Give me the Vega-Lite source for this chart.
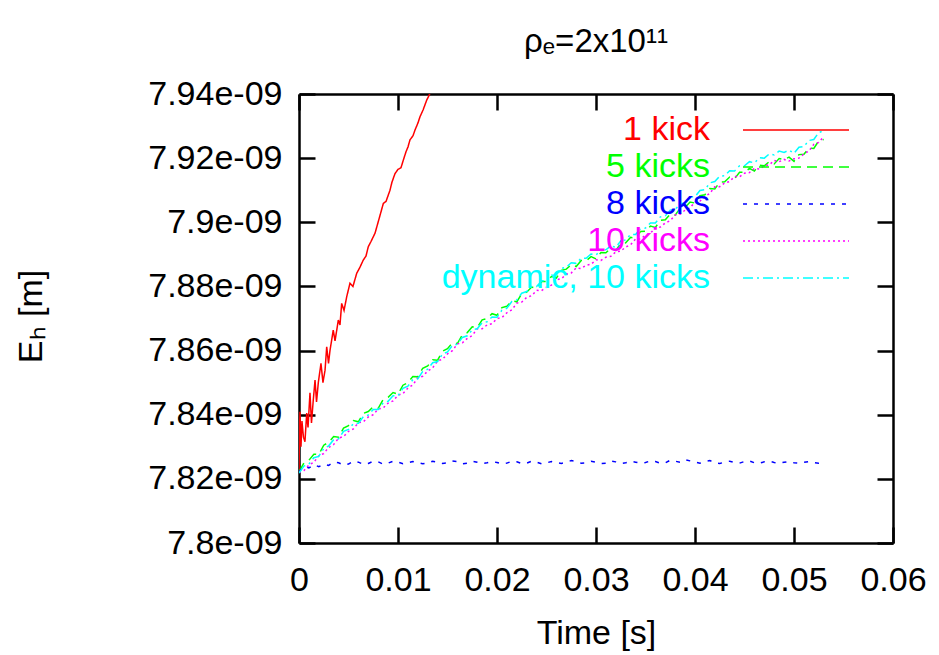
{
  "$schema": "https://vega.github.io/schema/vega-lite/v6.json",
  "width": 594,
  "height": 449,
  "autosize": {"type": "none"},
  "padding": {"left": 299, "top": 94, "right": 46, "bottom": 112},
  "background": "white",
  "title": {"text": "ρₑ=2x10¹¹", "font": "Liberation Sans", "fontSize": 33, "fontWeight": "normal", "color": "black", "anchor": "middle", "offset": 18},
  "config": {
    "view": {"stroke": null},
    "font": "Liberation Sans",
    "axis": {"grid": false, "domainColor": "black", "domainWidth": 2.5, "tickColor": "black", "tickWidth": 2.5, "tickSize": -16, "labelFont": "Liberation Sans", "labelFontSize": 34, "labelColor": "black", "titleFont": "Liberation Sans", "titleFontSize": 34, "titleFontWeight": "normal", "titleColor": "black", "labelFlush": false, "labelOverlap": false, "labelBound": false}
  },
  "data": {"values": [
    {"t":0,"E":7.8222e-9,"s":"1 kick"},{"t":0.00005,"E":7.835e-9,"s":"1 kick"},{"t":0.0001,"E":7.8409e-9,"s":"1 kick"},{"t":0.0002,"E":7.830e-9,"s":"1 kick"},{"t":0.0003,"E":7.838e-9,"s":"1 kick"},{"t":0.00045,"E":7.833e-9,"s":"1 kick"},{"t":0.0006,"E":7.8316e-9,"s":"1 kick"},{"t":0.00078,"E":7.8405e-9,"s":"1 kick"},{"t":0.00091,"E":7.836e-9,"s":"1 kick"},{"t":0.00111,"E":7.8468e-9,"s":"1 kick"},{"t":0.00126,"E":7.8374e-9,"s":"1 kick"},{"t":0.00144,"E":7.8445e-9,"s":"1 kick"},{"t":0.00162,"E":7.8508e-9,"s":"1 kick"},{"t":0.00177,"E":7.844e-9,"s":"1 kick"},{"t":0.00195,"E":7.850e-9,"s":"1 kick"},{"t":0.00222,"E":7.856e-9,"s":"1 kick"},{"t":0.00242,"E":7.850e-9,"s":"1 kick"},{"t":0.00263,"E":7.8539e-9,"s":"1 kick"},{"t":0.0028,"E":7.8612e-9,"s":"1 kick"},{"t":0.00298,"E":7.856e-9,"s":"1 kick"},{"t":0.00313,"E":7.860e-9,"s":"1 kick"},{"t":0.00346,"E":7.8664e-9,"s":"1 kick"},{"t":0.00364,"E":7.863e-9,"s":"1 kick"},{"t":0.00397,"E":7.8695e-9,"s":"1 kick"},{"t":0.00414,"E":7.868e-9,"s":"1 kick"},{"t":0.00431,"E":7.8747e-9,"s":"1 kick"},{"t":0.00455,"E":7.8725e-9,"s":"1 kick"},{"t":0.00482,"E":7.8768e-9,"s":"1 kick"},{"t":0.00515,"E":7.881e-9,"s":"1 kick"},{"t":0.00545,"E":7.880e-9,"s":"1 kick"},{"t":0.00583,"E":7.8841e-9,"s":"1 kick"},{"t":0.00616,"E":7.886e-9,"s":"1 kick"},{"t":0.00649,"E":7.8882e-9,"s":"1 kick"},{"t":0.00677,"E":7.8895e-9,"s":"1 kick"},{"t":0.007,"E":7.8924e-9,"s":"1 kick"},{"t":0.00727,"E":7.894e-9,"s":"1 kick"},{"t":0.00768,"E":7.8966e-9,"s":"1 kick"},{"t":0.00808,"E":7.901e-9,"s":"1 kick"},{"t":0.00852,"E":7.9059e-9,"s":"1 kick"},{"t":0.00879,"E":7.9065e-9,"s":"1 kick"},{"t":0.00919,"E":7.910e-9,"s":"1 kick"},{"t":0.00939,"E":7.9125e-9,"s":"1 kick"},{"t":0.0097,"E":7.9152e-9,"s":"1 kick"},{"t":0.01,"E":7.9165e-9,"s":"1 kick"},{"t":0.0103,"E":7.917e-9,"s":"1 kick"},{"t":0.01054,"E":7.9194e-9,"s":"1 kick"},{"t":0.01081,"E":7.922e-9,"s":"1 kick"},{"t":0.01101,"E":7.9235e-9,"s":"1 kick"},{"t":0.01121,"E":7.9257e-9,"s":"1 kick"},{"t":0.01152,"E":7.927e-9,"s":"1 kick"},{"t":0.01172,"E":7.9288e-9,"s":"1 kick"},{"t":0.01202,"E":7.931e-9,"s":"1 kick"},{"t":0.01222,"E":7.9329e-9,"s":"1 kick"},{"t":0.01253,"E":7.935e-9,"s":"1 kick"},{"t":0.0129,"E":7.9381e-9,"s":"1 kick"},{"t":0.01313,"E":7.9395e-9,"s":"1 kick"},{"t":0.01333,"E":7.941e-9,"s":"1 kick"},

    {"t":0,"E":7.8222e-9,"s":"5 kicks"},{"t":0.001,"E":7.8258e-9,"s":"5 kicks"},{"t":0.002,"E":7.8276e-9,"s":"5 kicks"},{"t":0.003,"E":7.8314e-9,"s":"5 kicks"},{"t":0.004,"E":7.833e-9,"s":"5 kicks"},{"t":0.005,"E":7.8366e-9,"s":"5 kicks"},{"t":0.006,"E":7.8378e-9,"s":"5 kicks"},{"t":0.007,"E":7.841e-9,"s":"5 kicks"},{"t":0.008,"E":7.842e-9,"s":"5 kicks"},{"t":0.009,"E":7.8454e-9,"s":"5 kicks"},{"t":0.010,"E":7.8464e-9,"s":"5 kicks"},{"t":0.011,"E":7.85e-9,"s":"5 kicks"},{"t":0.012,"E":7.8518e-9,"s":"5 kicks"},{"t":0.013,"E":7.8552e-9,"s":"5 kicks"},{"t":0.014,"E":7.857e-9,"s":"5 kicks"},{"t":0.015,"E":7.8606e-9,"s":"5 kicks"},{"t":0.016,"E":7.8622e-9,"s":"5 kicks"},{"t":0.017,"E":7.8656e-9,"s":"5 kicks"},{"t":0.018,"E":7.8672e-9,"s":"5 kicks"},{"t":0.019,"E":7.87e-9,"s":"5 kicks"},{"t":0.020,"E":7.871e-9,"s":"5 kicks"},{"t":0.021,"E":7.8738e-9,"s":"5 kicks"},{"t":0.022,"E":7.8752e-9,"s":"5 kicks"},{"t":0.023,"E":7.8782e-9,"s":"5 kicks"},{"t":0.024,"E":7.8794e-9,"s":"5 kicks"},{"t":0.025,"E":7.8815e-9,"s":"5 kicks"},{"t":0.026,"E":7.8826e-9,"s":"5 kicks"},{"t":0.027,"E":7.8854e-9,"s":"5 kicks"},{"t":0.028,"E":7.8862e-9,"s":"5 kicks"},{"t":0.029,"E":7.888e-9,"s":"5 kicks"},{"t":0.030,"E":7.8886e-9,"s":"5 kicks"},{"t":0.031,"E":7.8905e-9,"s":"5 kicks"},{"t":0.032,"E":7.8912e-9,"s":"5 kicks"},{"t":0.033,"E":7.8936e-9,"s":"5 kicks"},{"t":0.034,"E":7.895e-9,"s":"5 kicks"},{"t":0.035,"E":7.8972e-9,"s":"5 kicks"},{"t":0.036,"E":7.8984e-9,"s":"5 kicks"},{"t":0.037,"E":7.9008e-9,"s":"5 kicks"},{"t":0.038,"E":7.9022e-9,"s":"5 kicks"},{"t":0.039,"E":7.9046e-9,"s":"5 kicks"},{"t":0.040,"E":7.906e-9,"s":"5 kicks"},{"t":0.041,"E":7.9086e-9,"s":"5 kicks"},{"t":0.042,"E":7.9104e-9,"s":"5 kicks"},{"t":0.043,"E":7.9126e-9,"s":"5 kicks"},{"t":0.044,"E":7.9136e-9,"s":"5 kicks"},{"t":0.045,"E":7.9156e-9,"s":"5 kicks"},{"t":0.046,"E":7.916e-9,"s":"5 kicks"},{"t":0.047,"E":7.9176e-9,"s":"5 kicks"},{"t":0.048,"E":7.9182e-9,"s":"5 kicks"},{"t":0.049,"E":7.9196e-9,"s":"5 kicks"},{"t":0.050,"E":7.919e-9,"s":"5 kicks"},{"t":0.051,"E":7.9212e-9,"s":"5 kicks"},{"t":0.052,"E":7.923e-9,"s":"5 kicks"},{"t":0.053,"E":7.9258e-9,"s":"5 kicks"},
    {"t":0.0005,"E":7.825e-9,"s":"5 kicks"},{"t":0.0015,"E":7.8277e-9,"s":"5 kicks"},{"t":0.0025,"E":7.8305e-9,"s":"5 kicks"},{"t":0.0035,"E":7.8332e-9,"s":"5 kicks"},{"t":0.0045,"E":7.8358e-9,"s":"5 kicks"},{"t":0.0055,"E":7.8382e-9,"s":"5 kicks"},{"t":0.0065,"E":7.8404e-9,"s":"5 kicks"},{"t":0.0075,"E":7.8425e-9,"s":"5 kicks"},{"t":0.0085,"E":7.8447e-9,"s":"5 kicks"},{"t":0.0095,"E":7.8469e-9,"s":"5 kicks"},{"t":0.0105,"E":7.8492e-9,"s":"5 kicks"},{"t":0.0115,"E":7.8519e-9,"s":"5 kicks"},{"t":0.0125,"E":7.8545e-9,"s":"5 kicks"},{"t":0.0135,"E":7.8571e-9,"s":"5 kicks"},{"t":0.0145,"E":7.8598e-9,"s":"5 kicks"},{"t":0.0155,"E":7.8624e-9,"s":"5 kicks"},{"t":0.0165,"E":7.8649e-9,"s":"5 kicks"},{"t":0.0175,"E":7.8674e-9,"s":"5 kicks"},{"t":0.0185,"E":7.8696e-9,"s":"5 kicks"},{"t":0.0195,"E":7.8715e-9,"s":"5 kicks"},{"t":0.0205,"E":7.8734e-9,"s":"5 kicks"},{"t":0.0215,"E":7.8755e-9,"s":"5 kicks"},{"t":0.0225,"E":7.8777e-9,"s":"5 kicks"},{"t":0.0235,"E":7.8798e-9,"s":"5 kicks"},{"t":0.0245,"E":7.8815e-9,"s":"5 kicks"},{"t":0.0255,"E":7.8831e-9,"s":"5 kicks"},{"t":0.0265,"E":7.885e-9,"s":"5 kicks"},{"t":0.0275,"E":7.8868e-9,"s":"5 kicks"},{"t":0.0285,"E":7.8881e-9,"s":"5 kicks"},{"t":0.0295,"E":7.8893e-9,"s":"5 kicks"},{"t":0.0305,"E":7.8906e-9,"s":"5 kicks"},{"t":0.0315,"E":7.8919e-9,"s":"5 kicks"},{"t":0.0325,"E":7.8934e-9,"s":"5 kicks"},{"t":0.0335,"E":7.8953e-9,"s":"5 kicks"},{"t":0.0345,"E":7.8971e-9,"s":"5 kicks"},{"t":0.0355,"E":7.8988e-9,"s":"5 kicks"},{"t":0.0365,"E":7.9006e-9,"s":"5 kicks"},{"t":0.0375,"E":7.9025e-9,"s":"5 kicks"},{"t":0.0385,"E":7.9044e-9,"s":"5 kicks"},{"t":0.0395,"E":7.9063e-9,"s":"5 kicks"},{"t":0.0405,"E":7.9083e-9,"s":"5 kicks"},{"t":0.0415,"E":7.9105e-9,"s":"5 kicks"},{"t":0.0425,"E":7.9125e-9,"s":"5 kicks"},{"t":0.0435,"E":7.9141e-9,"s":"5 kicks"},{"t":0.0445,"E":7.9156e-9,"s":"5 kicks"},{"t":0.0455,"E":7.9168e-9,"s":"5 kicks"},{"t":0.0465,"E":7.9178e-9,"s":"5 kicks"},{"t":0.0475,"E":7.9189e-9,"s":"5 kicks"},{"t":0.0485,"E":7.9199e-9,"s":"5 kicks"},{"t":0.0495,"E":7.9203e-9,"s":"5 kicks"},{"t":0.0505,"E":7.9211e-9,"s":"5 kicks"},{"t":0.0515,"E":7.9231e-9,"s":"5 kicks"},{"t":0.0525,"E":7.9254e-9,"s":"5 kicks"},

    {"t":0,"E":7.8222e-9,"s":"8 kicks"},{"t":0.0005,"E":7.824e-9,"s":"8 kicks"},{"t":0.001,"E":7.8234e-9,"s":"8 kicks"},{"t":0.0015,"E":7.8244e-9,"s":"8 kicks"},{"t":0.002,"E":7.8238e-9,"s":"8 kicks"},{"t":0.0025,"E":7.8246e-9,"s":"8 kicks"},{"t":0.003,"E":7.8242e-9,"s":"8 kicks"},{"t":0.004,"E":7.825e-9,"s":"8 kicks"},{"t":0.005,"E":7.8246e-9,"s":"8 kicks"},{"t":0.006,"E":7.8252e-9,"s":"8 kicks"},{"t":0.007,"E":7.8248e-9,"s":"8 kicks"},{"t":0.008,"E":7.8253e-9,"s":"8 kicks"},{"t":0.009,"E":7.8249e-9,"s":"8 kicks"},{"t":0.010,"E":7.8252e-9,"s":"8 kicks"},{"t":0.011,"E":7.825e-9,"s":"8 kicks"},{"t":0.012,"E":7.8251e-9,"s":"8 kicks"},{"t":0.013,"E":7.8249e-9,"s":"8 kicks"},{"t":0.014,"E":7.8252e-9,"s":"8 kicks"},{"t":0.015,"E":7.825e-9,"s":"8 kicks"},{"t":0.016,"E":7.8254e-9,"s":"8 kicks"},{"t":0.017,"E":7.8249e-9,"s":"8 kicks"},{"t":0.018,"E":7.8252e-9,"s":"8 kicks"},{"t":0.019,"E":7.825e-9,"s":"8 kicks"},{"t":0.020,"E":7.8251e-9,"s":"8 kicks"},{"t":0.021,"E":7.8249e-9,"s":"8 kicks"},{"t":0.022,"E":7.8253e-9,"s":"8 kicks"},{"t":0.023,"E":7.8249e-9,"s":"8 kicks"},{"t":0.024,"E":7.8252e-9,"s":"8 kicks"},{"t":0.025,"E":7.825e-9,"s":"8 kicks"},{"t":0.026,"E":7.8251e-9,"s":"8 kicks"},{"t":0.027,"E":7.8252e-9,"s":"8 kicks"},{"t":0.028,"E":7.8254e-9,"s":"8 kicks"},{"t":0.029,"E":7.825e-9,"s":"8 kicks"},{"t":0.030,"E":7.8252e-9,"s":"8 kicks"},{"t":0.031,"E":7.8249e-9,"s":"8 kicks"},{"t":0.032,"E":7.8253e-9,"s":"8 kicks"},{"t":0.033,"E":7.825e-9,"s":"8 kicks"},{"t":0.034,"E":7.8252e-9,"s":"8 kicks"},{"t":0.035,"E":7.8251e-9,"s":"8 kicks"},{"t":0.036,"E":7.8254e-9,"s":"8 kicks"},{"t":0.037,"E":7.825e-9,"s":"8 kicks"},{"t":0.038,"E":7.8255e-9,"s":"8 kicks"},{"t":0.039,"E":7.826e-9,"s":"8 kicks"},{"t":0.040,"E":7.8252e-9,"s":"8 kicks"},{"t":0.041,"E":7.8254e-9,"s":"8 kicks"},{"t":0.042,"E":7.825e-9,"s":"8 kicks"},{"t":0.043,"E":7.8252e-9,"s":"8 kicks"},{"t":0.044,"E":7.8251e-9,"s":"8 kicks"},{"t":0.045,"E":7.8254e-9,"s":"8 kicks"},{"t":0.046,"E":7.825e-9,"s":"8 kicks"},{"t":0.047,"E":7.8253e-9,"s":"8 kicks"},{"t":0.048,"E":7.8251e-9,"s":"8 kicks"},{"t":0.049,"E":7.8252e-9,"s":"8 kicks"},{"t":0.050,"E":7.825e-9,"s":"8 kicks"},{"t":0.051,"E":7.8252e-9,"s":"8 kicks"},{"t":0.052,"E":7.8251e-9,"s":"8 kicks"},{"t":0.053,"E":7.8253e-9,"s":"8 kicks"},
    {"t":0.0035,"E":7.8252e-9,"s":"8 kicks"},{"t":0.0045,"E":7.8243e-9,"s":"8 kicks"},{"t":0.0055,"E":7.8255e-9,"s":"8 kicks"},{"t":0.0065,"E":7.8245e-9,"s":"8 kicks"},{"t":0.0075,"E":7.8255e-9,"s":"8 kicks"},{"t":0.0085,"E":7.8246e-9,"s":"8 kicks"},{"t":0.0095,"E":7.8255e-9,"s":"8 kicks"},{"t":0.0105,"E":7.8247e-9,"s":"8 kicks"},{"t":0.0115,"E":7.8254e-9,"s":"8 kicks"},{"t":0.0125,"E":7.8247e-9,"s":"8 kicks"},{"t":0.0135,"E":7.8255e-9,"s":"8 kicks"},{"t":0.0145,"E":7.8248e-9,"s":"8 kicks"},{"t":0.0155,"E":7.8256e-9,"s":"8 kicks"},{"t":0.0165,"E":7.8247e-9,"s":"8 kicks"},{"t":0.0175,"E":7.8255e-9,"s":"8 kicks"},{"t":0.0185,"E":7.8248e-9,"s":"8 kicks"},{"t":0.0195,"E":7.8254e-9,"s":"8 kicks"},{"t":0.0205,"E":7.8247e-9,"s":"8 kicks"},{"t":0.0215,"E":7.8255e-9,"s":"8 kicks"},{"t":0.0225,"E":7.8248e-9,"s":"8 kicks"},{"t":0.0235,"E":7.8255e-9,"s":"8 kicks"},{"t":0.0245,"E":7.8247e-9,"s":"8 kicks"},{"t":0.0255,"E":7.8254e-9,"s":"8 kicks"},{"t":0.0265,"E":7.8248e-9,"s":"8 kicks"},{"t":0.0275,"E":7.8257e-9,"s":"8 kicks"},{"t":0.0285,"E":7.8249e-9,"s":"8 kicks"},{"t":0.0295,"E":7.8255e-9,"s":"8 kicks"},{"t":0.0305,"E":7.8248e-9,"s":"8 kicks"},{"t":0.0315,"E":7.8256e-9,"s":"8 kicks"},{"t":0.0325,"E":7.8248e-9,"s":"8 kicks"},{"t":0.0335,"E":7.8255e-9,"s":"8 kicks"},{"t":0.0345,"E":7.8249e-9,"s":"8 kicks"},{"t":0.0355,"E":7.8256e-9,"s":"8 kicks"},{"t":0.0365,"E":7.8249e-9,"s":"8 kicks"},{"t":0.0375,"E":7.8258e-9,"s":"8 kicks"},{"t":0.0385,"E":7.8252e-9,"s":"8 kicks"},{"t":0.0395,"E":7.8256e-9,"s":"8 kicks"},{"t":0.0405,"E":7.8249e-9,"s":"8 kicks"},{"t":0.0415,"E":7.8257e-9,"s":"8 kicks"},{"t":0.0425,"E":7.8248e-9,"s":"8 kicks"},{"t":0.0435,"E":7.8255e-9,"s":"8 kicks"},{"t":0.0445,"E":7.8249e-9,"s":"8 kicks"},{"t":0.0455,"E":7.8256e-9,"s":"8 kicks"},{"t":0.0465,"E":7.8249e-9,"s":"8 kicks"},{"t":0.0475,"E":7.8255e-9,"s":"8 kicks"},{"t":0.0485,"E":7.8249e-9,"s":"8 kicks"},{"t":0.0495,"E":7.8254e-9,"s":"8 kicks"},{"t":0.0505,"E":7.8249e-9,"s":"8 kicks"},{"t":0.0515,"E":7.8254e-9,"s":"8 kicks"},{"t":0.0525,"E":7.8249e-9,"s":"8 kicks"},

    {"t":0,"E":7.822e-9,"s":"10 kicks"},{"t":0.001,"E":7.8243e-9,"s":"10 kicks"},{"t":0.002,"E":7.8272e-9,"s":"10 kicks"},{"t":0.003,"E":7.8298e-9,"s":"10 kicks"},{"t":0.004,"E":7.8327e-9,"s":"10 kicks"},{"t":0.005,"E":7.8348e-9,"s":"10 kicks"},{"t":0.006,"E":7.8375e-9,"s":"10 kicks"},{"t":0.007,"E":7.8393e-9,"s":"10 kicks"},{"t":0.008,"E":7.8418e-9,"s":"10 kicks"},{"t":0.009,"E":7.8436e-9,"s":"10 kicks"},{"t":0.010,"E":7.8461e-9,"s":"10 kicks"},{"t":0.011,"E":7.8483e-9,"s":"10 kicks"},{"t":0.012,"E":7.8515e-9,"s":"10 kicks"},{"t":0.013,"E":7.8536e-9,"s":"10 kicks"},{"t":0.014,"E":7.8568e-9,"s":"10 kicks"},{"t":0.015,"E":7.859e-9,"s":"10 kicks"},{"t":0.016,"E":7.8621e-9,"s":"10 kicks"},{"t":0.017,"E":7.8638e-9,"s":"10 kicks"},{"t":0.018,"E":7.8668e-9,"s":"10 kicks"},{"t":0.019,"E":7.868e-9,"s":"10 kicks"},{"t":0.020,"E":7.87e-9,"s":"10 kicks"},{"t":0.021,"E":7.8718e-9,"s":"10 kicks"},{"t":0.022,"E":7.8748e-9,"s":"10 kicks"},{"t":0.023,"E":7.8766e-9,"s":"10 kicks"},{"t":0.024,"E":7.8788e-9,"s":"10 kicks"},{"t":0.025,"E":7.8798e-9,"s":"10 kicks"},{"t":0.026,"E":7.8821e-9,"s":"10 kicks"},{"t":0.027,"E":7.8838e-9,"s":"10 kicks"},{"t":0.028,"E":7.8858e-9,"s":"10 kicks"},{"t":0.029,"E":7.8866e-9,"s":"10 kicks"},{"t":0.030,"E":7.8883e-9,"s":"10 kicks"},{"t":0.031,"E":7.8891e-9,"s":"10 kicks"},{"t":0.032,"E":7.8908e-9,"s":"10 kicks"},{"t":0.033,"E":7.8923e-9,"s":"10 kicks"},{"t":0.034,"E":7.8948e-9,"s":"10 kicks"},{"t":0.035,"E":7.896e-9,"s":"10 kicks"},{"t":0.036,"E":7.8983e-9,"s":"10 kicks"},{"t":0.037,"E":7.8998e-9,"s":"10 kicks"},{"t":0.038,"E":7.9023e-9,"s":"10 kicks"},{"t":0.039,"E":7.9038e-9,"s":"10 kicks"},{"t":0.040,"E":7.9063e-9,"s":"10 kicks"},{"t":0.041,"E":7.908e-9,"s":"10 kicks"},{"t":0.042,"E":7.9111e-9,"s":"10 kicks"},{"t":0.043,"E":7.9123e-9,"s":"10 kicks"},{"t":0.044,"E":7.9143e-9,"s":"10 kicks"},{"t":0.045,"E":7.9153e-9,"s":"10 kicks"},{"t":0.046,"E":7.9168e-9,"s":"10 kicks"},{"t":0.047,"E":7.9176e-9,"s":"10 kicks"},{"t":0.048,"E":7.9193e-9,"s":"10 kicks"},{"t":0.049,"E":7.9196e-9,"s":"10 kicks"},{"t":0.050,"E":7.9198e-9,"s":"10 kicks"},{"t":0.051,"E":7.9213e-9,"s":"10 kicks"},{"t":0.052,"E":7.9243e-9,"s":"10 kicks"},{"t":0.053,"E":7.9267e-9,"s":"10 kicks"},
    {"t":0.0005,"E":7.8226e-9,"s":"10 kicks"},{"t":0.0015,"E":7.8252e-9,"s":"10 kicks"},{"t":0.0025,"E":7.8279e-9,"s":"10 kicks"},{"t":0.0035,"E":7.8307e-9,"s":"10 kicks"},{"t":0.0045,"E":7.8332e-9,"s":"10 kicks"},{"t":0.0055,"E":7.8356e-9,"s":"10 kicks"},{"t":0.0065,"E":7.8378e-9,"s":"10 kicks"},{"t":0.0075,"E":7.84e-9,"s":"10 kicks"},{"t":0.0085,"E":7.8421e-9,"s":"10 kicks"},{"t":0.0095,"E":7.8443e-9,"s":"10 kicks"},{"t":0.0105,"E":7.8466e-9,"s":"10 kicks"},{"t":0.0115,"E":7.8493e-9,"s":"10 kicks"},{"t":0.0125,"E":7.852e-9,"s":"10 kicks"},{"t":0.0135,"E":7.8546e-9,"s":"10 kicks"},{"t":0.0145,"E":7.8573e-9,"s":"10 kicks"},{"t":0.0155,"E":7.86e-9,"s":"10 kicks"},{"t":0.0165,"E":7.8624e-9,"s":"10 kicks"},{"t":0.0175,"E":7.8647e-9,"s":"10 kicks"},{"t":0.0185,"E":7.8668e-9,"s":"10 kicks"},{"t":0.0195,"E":7.8684e-9,"s":"10 kicks"},{"t":0.0205,"E":7.8703e-9,"s":"10 kicks"},{"t":0.0215,"E":7.8727e-9,"s":"10 kicks"},{"t":0.0225,"E":7.8751e-9,"s":"10 kicks"},{"t":0.0235,"E":7.8771e-9,"s":"10 kicks"},{"t":0.0245,"E":7.8787e-9,"s":"10 kicks"},{"t":0.0255,"E":7.8804e-9,"s":"10 kicks"},{"t":0.0265,"E":7.8824e-9,"s":"10 kicks"},{"t":0.0275,"E":7.8842e-9,"s":"10 kicks"},{"t":0.0285,"E":7.8856e-9,"s":"10 kicks"},{"t":0.0295,"E":7.8869e-9,"s":"10 kicks"},{"t":0.0305,"E":7.8881e-9,"s":"10 kicks"},{"t":0.0315,"E":7.8894e-9,"s":"10 kicks"},{"t":0.0325,"E":7.891e-9,"s":"10 kicks"},{"t":0.0335,"E":7.893e-9,"s":"10 kicks"},{"t":0.0345,"E":7.8948e-9,"s":"10 kicks"},{"t":0.0355,"E":7.8966e-9,"s":"10 kicks"},{"t":0.0365,"E":7.8985e-9,"s":"10 kicks"},{"t":0.0375,"E":7.9005e-9,"s":"10 kicks"},{"t":0.0385,"E":7.9025e-9,"s":"10 kicks"},{"t":0.0395,"E":7.9045e-9,"s":"10 kicks"},{"t":0.0405,"E":7.9066e-9,"s":"10 kicks"},{"t":0.0415,"E":7.909e-9,"s":"10 kicks"},{"t":0.0425,"E":7.9111e-9,"s":"10 kicks"},{"t":0.0435,"E":7.9127e-9,"s":"10 kicks"},{"t":0.0445,"E":7.9142e-9,"s":"10 kicks"},{"t":0.0455,"E":7.9155e-9,"s":"10 kicks"},{"t":0.0465,"E":7.9166e-9,"s":"10 kicks"},{"t":0.0475,"E":7.9179e-9,"s":"10 kicks"},{"t":0.0485,"E":7.9189e-9,"s":"10 kicks"},{"t":0.0495,"E":7.9191e-9,"s":"10 kicks"},{"t":0.0505,"E":7.92e-9,"s":"10 kicks"},{"t":0.0515,"E":7.9222e-9,"s":"10 kicks"},{"t":0.0525,"E":7.9249e-9,"s":"10 kicks"},

    {"t":0,"E":7.8218e-9,"s":"dynamic, 10 kicks"},{"t":0.001,"E":7.8246e-9,"s":"dynamic, 10 kicks"},{"t":0.002,"E":7.827e-9,"s":"dynamic, 10 kicks"},{"t":0.003,"E":7.8303e-9,"s":"dynamic, 10 kicks"},{"t":0.004,"E":7.8325e-9,"s":"dynamic, 10 kicks"},{"t":0.005,"E":7.8354e-9,"s":"dynamic, 10 kicks"},{"t":0.006,"E":7.8373e-9,"s":"dynamic, 10 kicks"},{"t":0.007,"E":7.8399e-9,"s":"dynamic, 10 kicks"},{"t":0.008,"E":7.8416e-9,"s":"dynamic, 10 kicks"},{"t":0.009,"E":7.8442e-9,"s":"dynamic, 10 kicks"},{"t":0.010,"E":7.8459e-9,"s":"dynamic, 10 kicks"},{"t":0.011,"E":7.8489e-9,"s":"dynamic, 10 kicks"},{"t":0.012,"E":7.8512e-9,"s":"dynamic, 10 kicks"},{"t":0.013,"E":7.8542e-9,"s":"dynamic, 10 kicks"},{"t":0.014,"E":7.8566e-9,"s":"dynamic, 10 kicks"},{"t":0.015,"E":7.8596e-9,"s":"dynamic, 10 kicks"},{"t":0.016,"E":7.862e-9,"s":"dynamic, 10 kicks"},{"t":0.017,"E":7.8646e-9,"s":"dynamic, 10 kicks"},{"t":0.018,"E":7.8668e-9,"s":"dynamic, 10 kicks"},{"t":0.019,"E":7.869e-9,"s":"dynamic, 10 kicks"},{"t":0.020,"E":7.8704e-9,"s":"dynamic, 10 kicks"},{"t":0.021,"E":7.8732e-9,"s":"dynamic, 10 kicks"},{"t":0.022,"E":7.8758e-9,"s":"dynamic, 10 kicks"},{"t":0.023,"E":7.8784e-9,"s":"dynamic, 10 kicks"},{"t":0.024,"E":7.88e-9,"s":"dynamic, 10 kicks"},{"t":0.025,"E":7.8818e-9,"s":"dynamic, 10 kicks"},{"t":0.026,"E":7.8836e-9,"s":"dynamic, 10 kicks"},{"t":0.027,"E":7.886e-9,"s":"dynamic, 10 kicks"},{"t":0.028,"E":7.8872e-9,"s":"dynamic, 10 kicks"},{"t":0.029,"E":7.8888e-9,"s":"dynamic, 10 kicks"},{"t":0.030,"E":7.8898e-9,"s":"dynamic, 10 kicks"},{"t":0.031,"E":7.8914e-9,"s":"dynamic, 10 kicks"},{"t":0.032,"E":7.8922e-9,"s":"dynamic, 10 kicks"},{"t":0.033,"E":7.8945e-9,"s":"dynamic, 10 kicks"},{"t":0.034,"E":7.8962e-9,"s":"dynamic, 10 kicks"},{"t":0.035,"E":7.8982e-9,"s":"dynamic, 10 kicks"},{"t":0.036,"E":7.8998e-9,"s":"dynamic, 10 kicks"},{"t":0.037,"E":7.902e-9,"s":"dynamic, 10 kicks"},{"t":0.038,"E":7.904e-9,"s":"dynamic, 10 kicks"},{"t":0.039,"E":7.906e-9,"s":"dynamic, 10 kicks"},{"t":0.040,"E":7.908e-9,"s":"dynamic, 10 kicks"},{"t":0.041,"E":7.9102e-9,"s":"dynamic, 10 kicks"},{"t":0.042,"E":7.9127e-9,"s":"dynamic, 10 kicks"},{"t":0.043,"E":7.9145e-9,"s":"dynamic, 10 kicks"},{"t":0.044,"E":7.916e-9,"s":"dynamic, 10 kicks"},{"t":0.045,"E":7.9176e-9,"s":"dynamic, 10 kicks"},{"t":0.046,"E":7.9185e-9,"s":"dynamic, 10 kicks"},{"t":0.047,"E":7.92e-9,"s":"dynamic, 10 kicks"},{"t":0.048,"E":7.921e-9,"s":"dynamic, 10 kicks"},{"t":0.049,"E":7.9218e-9,"s":"dynamic, 10 kicks"},{"t":0.050,"E":7.9215e-9,"s":"dynamic, 10 kicks"},{"t":0.051,"E":7.9236e-9,"s":"dynamic, 10 kicks"},{"t":0.052,"E":7.9258e-9,"s":"dynamic, 10 kicks"},{"t":0.053,"E":7.9285e-9,"s":"dynamic, 10 kicks"},
    {"t":0.0005,"E":7.824e-9,"s":"dynamic, 10 kicks"},{"t":0.0015,"E":7.8266e-9,"s":"dynamic, 10 kicks"},{"t":0.0025,"E":7.8295e-9,"s":"dynamic, 10 kicks"},{"t":0.0035,"E":7.8322e-9,"s":"dynamic, 10 kicks"},{"t":0.0045,"E":7.8348e-9,"s":"dynamic, 10 kicks"},{"t":0.0055,"E":7.8372e-9,"s":"dynamic, 10 kicks"},{"t":0.0065,"E":7.8394e-9,"s":"dynamic, 10 kicks"},{"t":0.0075,"E":7.8416e-9,"s":"dynamic, 10 kicks"},{"t":0.0085,"E":7.8437e-9,"s":"dynamic, 10 kicks"},{"t":0.0095,"E":7.8459e-9,"s":"dynamic, 10 kicks"},{"t":0.0105,"E":7.8482e-9,"s":"dynamic, 10 kicks"},{"t":0.0115,"E":7.8509e-9,"s":"dynamic, 10 kicks"},{"t":0.0125,"E":7.8535e-9,"s":"dynamic, 10 kicks"},{"t":0.0135,"E":7.8562e-9,"s":"dynamic, 10 kicks"},{"t":0.0145,"E":7.8589e-9,"s":"dynamic, 10 kicks"},{"t":0.0155,"E":7.8616e-9,"s":"dynamic, 10 kicks"},{"t":0.0165,"E":7.8641e-9,"s":"dynamic, 10 kicks"},{"t":0.0175,"E":7.8665e-9,"s":"dynamic, 10 kicks"},{"t":0.0185,"E":7.8687e-9,"s":"dynamic, 10 kicks"},{"t":0.0195,"E":7.8705e-9,"s":"dynamic, 10 kicks"},{"t":0.0205,"E":7.8726e-9,"s":"dynamic, 10 kicks"},{"t":0.0215,"E":7.8753e-9,"s":"dynamic, 10 kicks"},{"t":0.0225,"E":7.8779e-9,"s":"dynamic, 10 kicks"},{"t":0.0235,"E":7.88e-9,"s":"dynamic, 10 kicks"},{"t":0.0245,"E":7.8817e-9,"s":"dynamic, 10 kicks"},{"t":0.0255,"E":7.8835e-9,"s":"dynamic, 10 kicks"},{"t":0.0265,"E":7.8856e-9,"s":"dynamic, 10 kicks"},{"t":0.0275,"E":7.8874e-9,"s":"dynamic, 10 kicks"},{"t":0.0285,"E":7.8888e-9,"s":"dynamic, 10 kicks"},{"t":0.0295,"E":7.8901e-9,"s":"dynamic, 10 kicks"},{"t":0.0305,"E":7.8914e-9,"s":"dynamic, 10 kicks"},{"t":0.0315,"E":7.8926e-9,"s":"dynamic, 10 kicks"},{"t":0.0325,"E":7.8942e-9,"s":"dynamic, 10 kicks"},{"t":0.0335,"E":7.8962e-9,"s":"dynamic, 10 kicks"},{"t":0.0345,"E":7.898e-9,"s":"dynamic, 10 kicks"},{"t":0.0355,"E":7.8998e-9,"s":"dynamic, 10 kicks"},{"t":0.0365,"E":7.9017e-9,"s":"dynamic, 10 kicks"},{"t":0.0375,"E":7.9038e-9,"s":"dynamic, 10 kicks"},{"t":0.0385,"E":7.9058e-9,"s":"dynamic, 10 kicks"},{"t":0.0395,"E":7.9078e-9,"s":"dynamic, 10 kicks"},{"t":0.0405,"E":7.9099e-9,"s":"dynamic, 10 kicks"},{"t":0.0415,"E":7.9123e-9,"s":"dynamic, 10 kicks"},{"t":0.0425,"E":7.9144e-9,"s":"dynamic, 10 kicks"},{"t":0.0435,"E":7.9161e-9,"s":"dynamic, 10 kicks"},{"t":0.0445,"E":7.9176e-9,"s":"dynamic, 10 kicks"},{"t":0.0455,"E":7.9189e-9,"s":"dynamic, 10 kicks"},{"t":0.0465,"E":7.9201e-9,"s":"dynamic, 10 kicks"},{"t":0.0475,"E":7.9213e-9,"s":"dynamic, 10 kicks"},{"t":0.0485,"E":7.9222e-9,"s":"dynamic, 10 kicks"},{"t":0.0495,"E":7.9225e-9,"s":"dynamic, 10 kicks"},{"t":0.0505,"E":7.9234e-9,"s":"dynamic, 10 kicks"},{"t":0.0515,"E":7.9255e-9,"s":"dynamic, 10 kicks"},{"t":0.0525,"E":7.928e-9,"s":"dynamic, 10 kicks"}
  ]},
  "layer": [
    {
      "mark": {"type": "line", "strokeWidth": 1.5, "clip": true},
      "encoding": {
        "x": {"field": "t", "type": "quantitative", "scale": {"domain": [0, 0.06], "nice": false, "zero": false},
          "axis": {"values": [0, 0.01, 0.02, 0.03, 0.04, 0.05, 0.06], "format": ".2~f", "labelPadding": 36, "title": "Time [s]", "titleBaseline": "middle", "titleY": 90}},
        "y": {"field": "E", "type": "quantitative", "scale": {"domain": [7.8e-9, 7.94e-9], "nice": false, "zero": false},
          "axis": {"values": [7.8e-9, 7.82e-9, 7.84e-9, 7.86e-9, 7.88e-9, 7.9e-9, 7.92e-9, 7.94e-9], "labelExpr": "format(datum.value*1e9, '.2~f') + 'e-09'", "labelPadding": 33, "title": "Eₕ [m]", "titleBaseline": "middle", "titleX": -268, "titleY": 222}},
        "color": {"field": "s", "type": "nominal",
          "scale": {"domain": ["1 kick", "5 kicks", "8 kicks", "10 kicks", "dynamic, 10 kicks"], "range": ["#ff0000", "#00ff00", "#0000ff", "#ff00ff", "#00ffff"]},
          "legend": {"orient": "none", "legendX": 480, "legendY": 19, "title": null, "symbolType": "M-5.3,0H5.3", "symbolSize": 400, "symbolStrokeWidth": 1.5, "symbolFillColor": "transparent", "labelAlign": "right", "labelBaseline": "middle", "labelOffset": -103, "labelFontSize": 34, "labelFont": "Liberation Sans", "labelLimit": 0, "rowPadding": 3, "padding": 0,
            "encode": {"labels": {"update": {"fill": {"scale": "color", "field": "value"}}}}}},
        "strokeDash": {"field": "s", "type": "nominal",
          "scale": {"domain": ["1 kick", "5 kicks", "8 kicks", "10 kicks", "dynamic, 10 kicks"], "range": [[1, 0], [10, 6], [4, 7], [2, 3], [10, 4, 2, 4]]},
          "legend": {"orient": "none", "legendX": 480, "legendY": 19, "title": null, "symbolType": "M-5.3,0H5.3", "symbolSize": 400, "symbolStrokeWidth": 1.5, "symbolFillColor": "transparent", "labelAlign": "right", "labelBaseline": "middle", "labelOffset": -103, "labelFontSize": 34, "labelFont": "Liberation Sans", "labelLimit": 0, "rowPadding": 3, "padding": 0}}
      }
    },
    {
      "mark": {"type": "point", "opacity": 0},
      "encoding": {
        "x": {"field": "t", "type": "quantitative", "axis": {"orient": "top", "values": [0, 0.01, 0.02, 0.03, 0.04, 0.05, 0.06], "labels": false, "title": null}},
        "y": {"field": "E", "type": "quantitative", "axis": {"orient": "right", "values": [7.8e-9, 7.82e-9, 7.84e-9, 7.86e-9, 7.88e-9, 7.9e-9, 7.92e-9, 7.94e-9], "labels": false, "title": null}}
      }
    }
  ],
  "resolve": {"axis": {"x": "independent", "y": "independent"}}
}
